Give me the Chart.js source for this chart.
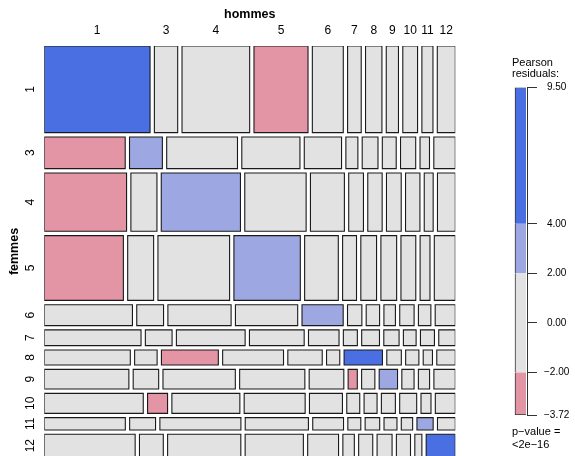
<!DOCTYPE html>
<html>
<head>
<meta charset="utf-8">
<script src="https://cdn.jsdelivr.net/npm/chart.js@4.4.1/dist/chart.umd.min.js"></script>
<style>
  html, body { margin: 0; padding: 0; background: #fff; overflow: hidden; }
  #wrap { position: relative; width: 575px; height: 456px; overflow: hidden; }
  #mosaic { position: absolute; left: 0; top: 0; }
  #key { position: absolute; left: 512px; top: 50px; }
</style>
</head>
<body>
<div id="wrap">
  <canvas id="mosaic" width="575" height="458"></canvas>
  <canvas id="key" width="63" height="406"></canvas>
</div>
<script>
// categories
const hommes = ["1", "3", "4", "5", "6", "7", "8", "9", "10", "11", "12"];
const femmes = ["1", "3", "4", "5", "6", "7", "8", "9", "10", "11", "12"];

// counts, one row per femmes category, columns follow hommes
const counts = [
    [458, 101, 293, 234, 134, 59, 71, 53, 64, 48, 78],
    [128, 52, 112, 92, 59, 19, 25, 22, 24, 15, 34],
    [240, 76, 231, 179, 99, 43, 42, 43, 42, 26, 52],
    [256, 84, 232, 215, 109, 45, 51, 51, 48, 32, 68],
    [92, 28, 66, 65, 43, 15, 14, 12, 15, 13, 21],
    [76, 21, 54, 43, 24, 11, 14, 12, 10, 11, 13],
    [65, 17, 43, 46, 26, 10, 29, 11, 10, 7, 14],
    [83, 25, 71, 64, 34, 9, 13, 18, 12, 11, 21],
    [99, 20, 68, 61, 33, 13, 13, 14, 17, 10, 20],
    [50, 16, 50, 39, 19, 8, 9, 8, 7, 10, 11],
    [103, 27, 83, 66, 35, 13, 16, 17, 16, 8, 33]
];

// Pearson residuals (estimated from the shading)
const residuals = [
    [9.50, -0.8, -1.2, -3.4, -1.5, -0.5, -0.6, -1.0, -0.3, -0.6, -0.9],
    [-2.9, 3.1, 0.4, 0.3, 1.2, 0.2, 0.1, 0.6, 0.5, -0.1, 0.9],
    [-3.5, -0.2, 3.3, 0.5, -0.4, 0.6, -0.3, 0.4, 0.2, -0.3, -0.5],
    [-3.72, -0.3, 0.6, 3.6, -0.6, 0.4, 0.3, 0.7, 0.3, 0.1, 0.4],
    [-0.9, 0.2, -0.3, 0.8, 2.6, 0.5, -0.2, -0.4, 0.4, 1.2, 0.1],
    [0.8, 0.4, 0.3, -0.4, -0.6, 0.3, 1.1, 0.6, 0.1, 1.4, -0.4],
    [-0.6, -0.5, -2.4, -0.2, 0.1, 0.2, 6.1, 0.5, 0.2, -0.4, 0.0],
    [-0.7, 0.3, 0.4, 0.6, 0.2, -2.1, -0.4, 2.4, -0.3, 0.3, 0.5],
    [1.2, -2.2, 0.0, 0.1, -0.4, 0.3, -0.5, 0.2, 1.0, 0.2, 0.1],
    [-0.6, 0.3, 1.3, 0.5, -0.5, 0.1, 0.2, 0.1, -0.3, 2.2, -0.2],
    [0.4, -0.1, 0.2, -0.6, -0.4, -0.2, -0.1, 0.6, 0.3, -0.7, 5.2]
];

// legend scale
const keyTicks = [-3.72, -2, 0, 2, 4, 9.5];
const keyBreaks = [-3.72, -2, 2, 4, 9.5];
const pValue = "<2e\u221216";

Chart.defaults.font.family = "'Liberation Sans', Arial, Helvetica, sans-serif";
Chart.defaults.color = "#000";

const GAP = 0.0105;

// shading like vcd's shading_hcl
function shade(r) {
    if (r > 4) return "#4A6FE3";
    if (r > 2) return "#9DA8E2";
    if (r < -4) return "#D33F6A";
    if (r < -2) return "#E495A5";
    return "#E2E2E2";
}

const sum = arr => arr.reduce((a, b) => a + b, 0);
const rowTot = counts.map(sum);
const N = sum(rowTot);
const shareX = 1 - GAP * (hommes.length - 1);
const shareY = 1 - GAP * (femmes.length - 1);

// build the tiles: rows split by femmes, then each row split by hommes
const datasets = [];
const rowCenters = [];
const topCenters = [];
let y = 0;
femmes.forEach((f, i) => {
    const h = rowTot[i] / N * shareY;
    let x = 0;
    hommes.forEach((hm, j) => {
        const w = counts[i][j] / rowTot[i] * shareX;
        if (i === 0) topCenters.push(x + w / 2);
        datasets.push({
            data: [
                {x: x, y: y}, {x: x + w, y: y}, {x: x + w, y: y + h},
                {x: x, y: y + h}, {x: x, y: y}
            ],
            showLine: true,
            fill: "shape",
            backgroundColor: shade(residuals[i][j]),
            borderColor: "#1a1a1a",
            borderWidth: 1.1,
            borderJoinStyle: "miter",
            borderCapStyle: "square",
            pointRadius: 0,
            tension: 0
        });
        x += w + GAP;
    });
    rowCenters.push(y + h / 2);
    y += h + GAP;
});

new Chart(document.getElementById("mosaic"), {
    type: "scatter",
    data: { datasets: datasets },
    options: {
        responsive: false,
        animation: false,
        events: [],
        layout: { padding: { left: 0, top: 0, right: 119.7, bottom: 1 } },
        plugins: { legend: { display: false }, tooltip: { enabled: false } },
        scales: {
            x: {
                type: "linear",
                position: "top",
                min: 0,
                max: 1,
                grid: { display: false, drawTicks: false },
                border: { display: false },
                afterBuildTicks: s => { s.ticks = topCenters.map(v => ({ value: v })); },
                afterFit: s => { s.height = 46; s.paddingLeft = 0; s.paddingRight = 0; },
                ticks: {
                    autoSkip: false,
                    maxRotation: 0,
                    padding: 8.3,
                    font: { size: 12 },
                    callback: (v, i) => hommes[i]
                },
                title: {
                    display: true,
                    text: "hommes",
                    font: { size: 12.5, weight: "bold" },
                    padding: { top: 7, bottom: 0 }
                }
            },
            y: {
                type: "linear",
                position: "left",
                reverse: true,
                min: 0,
                max: 1,
                grid: { display: false, drawTicks: false },
                border: { display: false },
                afterBuildTicks: s => { s.ticks = rowCenters.map(v => ({ value: v })); },
                afterFit: s => { s.width = 44.3; s.paddingTop = 0; s.paddingBottom = 0; },
                ticks: {
                    autoSkip: false,
                    minRotation: 90,
                    maxRotation: 90,
                    crossAlign: "center",
                    padding: 7,
                    font: { size: 12 },
                    callback: (v, i) => femmes[i]
                },
                title: {
                    display: true,
                    text: "femmes",
                    font: { size: 12.5, weight: "bold" },
                    padding: { top: 6.8, bottom: 0 }
                }
            }
        }
    }
});

// colour key
const keySets = keyBreaks.slice(0, -1).map((lo, k) => {
    const hi = keyBreaks[k + 1];
    const last = k === keyBreaks.length - 2;
    return {
        data: [{ x: 9.5, y: [lo, hi] }],
        backgroundColor: shade((lo + hi) / 2),
        borderColor: "#333",
        borderSkipped: false,
        borderWidth: { left: 1, right: 0, top: last ? 1 : 0, bottom: k === 0 ? 1 : 0 },
        barThickness: 11,
        grouped: false
    };
});

new Chart(document.getElementById("key"), {
    type: "bar",
    data: { datasets: keySets },
    options: {
        responsive: false,
        animation: false,
        events: [],
        layout: { padding: 0 },
        plugins: {
            legend: { display: false },
            tooltip: { enabled: false },
            title: {
                display: true,
                text: ["Pearson", "residuals:"],
                align: "start",
                font: { size: 11, weight: "normal", lineHeight: 1 },
                color: "#000",
                padding: { top: 7, bottom: 8.5 }
            },
            subtitle: {
                display: true,
                position: "bottom",
                text: ["p\u2212value =", pValue],
                align: "start",
                font: { size: 11, lineHeight: 1.15 },
                color: "#000",
                padding: { top: 11, bottom: 4.7 }
            }
        },
        scales: {
            x: { type: "linear", display: false, min: 0, max: 15 },
            y: {
                position: "right",
                min: keyTicks[0],
                max: keyTicks[keyTicks.length - 1],
                afterBuildTicks: s => { s.ticks = keyTicks.map(v => ({ value: v })); },
                afterFit: s => { s.width = 48; },
                grid: { drawOnChartArea: false, drawTicks: true, tickLength: 10, color: "#333" },
                border: { display: true, color: "#333" },
                ticks: {
                    crossAlign: "center",
                    padding: 7,
                    autoSkip: false,
                    font: { size: 10 },
                    callback: v => v.toFixed(2).replace("-", "\u2212")
                }
            }
        }
    }
});
</script>
</body>
</html>
